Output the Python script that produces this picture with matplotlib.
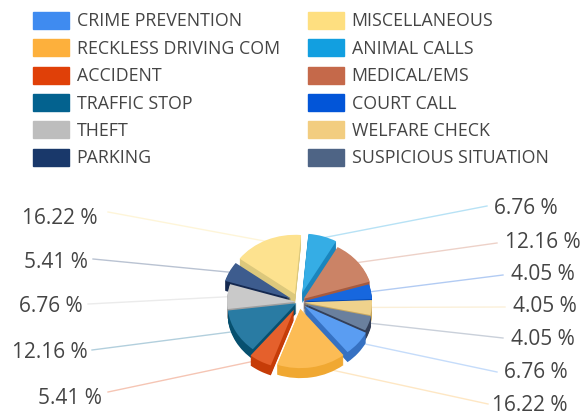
import matplotlib
matplotlib.use('Agg')
import matplotlib.pyplot as plt
import numpy as np

# call types and their counts (shares come out as 6.76 %, 16.22 % ...)
categories = ['CRIME PREVENTION', 'RECKLESS DRIVING COM', 'ACCIDENT', 'TRAFFIC STOP', 'THEFT', 'PARKING',
              'MISCELLANEOUS', 'ANIMAL CALLS', 'MEDICAL/EMS', 'COURT CALL', 'WELFARE CHECK', 'SUSPICIOUS SITUATION']
counts = [5, 12, 4, 9, 5, 4, 12, 5, 9, 3, 3, 3]

legend_colors = ['#3f8bf0', '#fdb03c', '#e04008', '#03628f', '#bdbdbd', '#19386a',
                 '#fedf80', '#129fe0', '#c5694a', '#0255d8', '#f2cd80', '#4e6485']
top_colors = ['#5a9df2', '#fcbc55', '#e5602c', '#297ba3', '#c9c9c9', '#3d5c8e',
              '#fde28f', '#35ade5', '#cb8366', '#1767de', '#efd28c', '#6a809e']
side_colors = ['#3671c2', '#f0a832', '#c63c08', '#07506f', '#9f9f9f', '#14284f',
               '#dcc87c', '#1a85bd', '#a65a3e', '#0045b0', '#c8a860', '#333f58']

# layout, in pixels of the 585x415 picture
squash = 0.86
cx, cy = 299, 302
radius = 69
depth = 10
explode = [7, 8, 10, 3, 3, 9, 10, 11, 6, 4, 4, 5]
label_pos = [(536, 372), (530, 405), (70, 398), (50, 352), (51, 307), (56, 262),
             (60, 218), (526, 209), (543, 242), (543, 275), (545, 307), (543, 339)]
leader_end = [(497, 372), (488, 404), (108, 392), (92, 350), (88, 304), (93, 259),
              (108, 212), (487, 206), (497, 243), (503, 275), (505, 307), (503, 338)]

plt.rcParams['font.family'] = ['Open Sans', 'DejaVu Sans']

fig = plt.figure(figsize=(5.85, 4.15), dpi=100)
ax = fig.add_axes([0, 0, 1, 1])


def to_y(py):
    return (415 - py) / squash


start = -27
shares = np.array(counts) / sum(counts) * 100
mids = start - np.cumsum(np.r_[0, shares[:-1]]) * 3.6 - shares * 1.8

# leader lines go under the pie
for i, m in enumerate(mids):
    a = np.radians(m)
    r = radius * 0.97 + explode[i]
    x0 = cx + r * np.cos(a)
    y0 = to_y(cy) + r * np.sin(a)
    ex, ey = leader_end[i]
    ax.plot([x0, ex], [y0, to_y(ey)], color=legend_colors[i], lw=1, alpha=0.3, zorder=1)

# sides: the same pie stacked pixel by pixel, then the top face
for d in range(depth, 0, -1):
    ax.pie(counts, colors=side_colors, explode=explode, radius=radius, startangle=start,
           counterclock=False, center=(cx, to_y(cy + d)), frame=True,
           wedgeprops={'zorder': 2, 'linewidth': 0})
ax.pie(counts, colors=top_colors, explode=explode, radius=radius, startangle=start,
       counterclock=False, center=(cx, to_y(cy)), frame=True,
       wedgeprops={'zorder': 2, 'linewidth': 0})

ax.set_aspect('auto')
ax.set_xlim(0, 585)
ax.set_ylim(0, 415 / squash)
ax.axis('off')

for i, s in enumerate(shares):
    x, y = label_pos[i]
    ax.text(x, to_y(y), f'{s:.2f} %', fontsize=15, color='#444444', ha='center', va='center', zorder=4)

handles = [plt.Rectangle((0, 0), 1, 1, color=c) for c in legend_colors]
fig.legend(handles, categories, ncol=2, loc='upper left', bbox_to_anchor=(33 / 585, 1 - 12 / 415),
           frameon=False, borderaxespad=0, borderpad=0, fontsize=12.8, labelcolor='#444444',
           handlelength=2.0, handleheight=1.08, handletextpad=0.45, labelspacing=0.5, columnspacing=1.6)

fig.savefig('out.png', dpi=100)
